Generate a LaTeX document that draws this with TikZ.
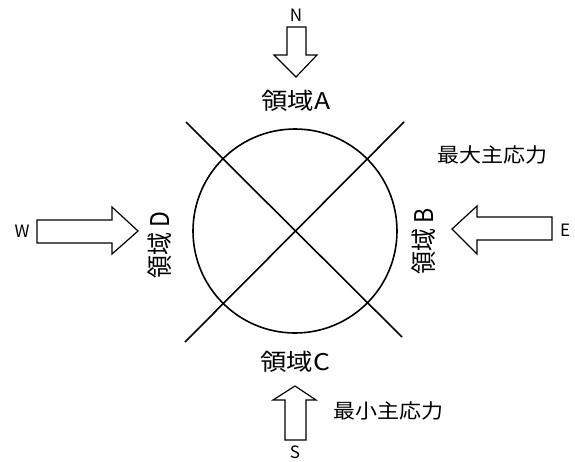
\documentclass[tikz,border=0pt]{standalone}
\usepackage{fontspec}
\setmainfont{Noto Sans CJK JP}
\begin{document}
\begin{tikzpicture}[x=1pt,y=-1pt,
  ln/.style={line width=1.6pt},
  arr/.style={draw, line width=1.2pt, line join=miter},
  big/.style={font=\fontsize{23}{26}\selectfont, inner sep=0pt, xscale=1.15},
  bigv/.style={font=\fontsize{23}{26}\selectfont, inner sep=0pt, xscale=1.12, rotate=90},
  mid/.style={font=\fontsize{20}{23}\selectfont, inner sep=0pt, xscale=1.1},
  lett/.style={font=\fontsize{17}{19}\selectfont, inner sep=0pt}]
\useasboundingbox (0,0) rectangle (575,461);
% circle and lines
\coordinate (ctr) at (295,231);
\draw[ln] (ctr) circle (102);
\coordinate (ul) at (186,122);
\coordinate (lr) at (402,337);
\coordinate (ur) at (404,122);
\coordinate (ll) at (185,342);
\draw[ln] (ul) -- (lr);
\draw[ln] (ur) -- (ll);
% N arrow
\draw[arr] (287,27) -- (306,27) -- (306,55) -- (317,55) -- (296,77) -- (274,55) -- (287,55) -- cycle;
\node[lett] (N) at (296,15) {N};
\node[big] (A) at (296,101) {領域A};
% S arrow
\draw[arr] (285,440) -- (306,440) -- (306,400) -- (316,400) -- (295,386) -- (273,400) -- (285,400) -- cycle;
\node[lett] (S) at (295,452) {S};
\node[big] (C) at (295,362) {領域C};
\node[mid] (min) at (388,411) {最小主応力};
% W arrow
\draw[arr] (37,220) -- (112,220) -- (112,207) -- (138,231) -- (112,254) -- (112,243) -- (37,243) -- cycle;
\node[lett] (W) at (22,231) {W};
\node[bigv] (D) at (160,245) {領域 D};
% E arrow
\draw[arr] (552,217) -- (477,217) -- (477,206) -- (452,229) -- (477,254) -- (477,240) -- (552,240) -- cycle;
\node[lett] (E) at (565,230) {E};
\node[bigv] (B) at (424,241) {領域 B};
\node[mid] (max) at (492,155) {最大主応力};
\end{tikzpicture}
\end{document}
